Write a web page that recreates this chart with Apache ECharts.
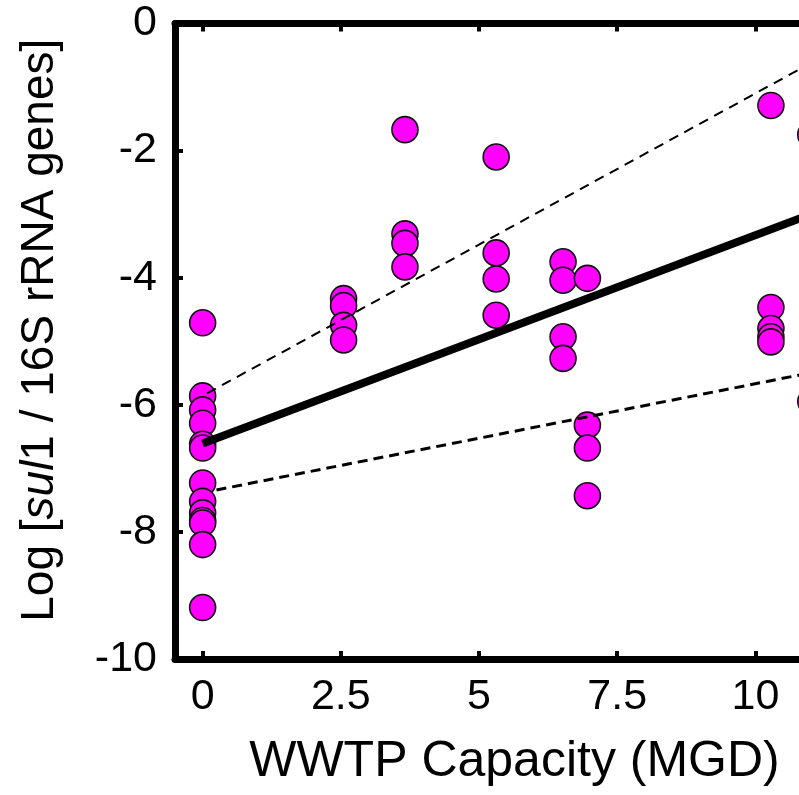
<!DOCTYPE html>
<html>
<head>
<meta charset="utf-8">
<script src="https://cdn.jsdelivr.net/npm/echarts@6/dist/echarts.min.js"></script>
<style>
html,body{margin:0;padding:0;background:#fff;}
#chart{width:799px;height:795px;}
</style>
</head>
<body>
<div id="chart"></div>
<script>
// Data
const capacityMGD = [
  0,0,0,0,0,0,0,0,0,0,0,0,0,
  2.55,2.55,2.55,2.55,
  3.66,3.66,3.66,3.66,
  5.31,5.31,5.31,5.31,
  6.52,6.52,6.52,6.52,
  6.96,6.96,6.96,6.96,
  10.28,10.28,10.28,10.28,10.28,
  11.0,11.0
];
const logSul1 = [
  -4.71,-5.86,-6.08,-6.29,-6.62,-6.68,-7.23,-7.52,-7.70,-7.82,-7.86,-8.20,-9.19,
  -4.33,-4.44,-4.75,-4.98,
  -1.67,-3.31,-3.46,-3.83,
  -2.10,-3.61,-4.02,-4.59,
  -3.75,-4.04,-4.93,-5.27,
  -4.01,-6.32,-6.68,-7.43,
  -1.29,-4.47,-4.80,-4.93,-5.01,
  -1.75,-5.95
];
const fitX = [0, 12.5];
const fitY = [-6.61, -2.51];
const upperX = [0.08, 12.5];
const upperY = [-5.82, 0.09];
const lowerX = [0.25, 12.5];
const lowerY = [-7.34, -5.24];
const xTicks = [0, 2.5, 5, 7.5, 10];
const yTicks = [0, -2, -4, -6, -8, -10];

const pts = capacityMGD.map((x, i) => [x, logSul1[i]]);
const zip = (a, b) => a.map((v, i) => [v, b[i]]);

const FONT = '"Liberation Sans", Arial, sans-serif';
const chart = echarts.init(document.getElementById('chart'), null, {renderer: 'canvas'});

const tickStyle = {show: true, inside: true, length: 8, lineStyle: {color: '#000', width: 4}};

chart.setOption({
  backgroundColor: '#fff',
  animation: false,
  grid: {left: 175, top: 23.5, width: 691, height: 635.5, show: false,
    containLabel: false, outerBoundsMode: 'none'},
  xAxis: [{
    type: 'value', min: -0.5, max: 12, position: 'bottom',
    axisLine: {show: true, onZero: false, lineStyle: {color: '#000', width: 7}},
    axisTick: Object.assign({customValues: xTicks}, tickStyle),
    axisLabel: {customValues: xTicks, color: '#000', fontSize: 43, fontFamily: FONT, margin: 17},
    splitLine: {show: false},
    name: 'WWTP Capacity (MGD)', nameLocation: 'middle', nameGap: 78,
    nameTextStyle: {color: '#000', fontSize: 50, fontFamily: FONT, padding: [0, 12, 0, 0]}
  }, {
    type: 'value', min: -0.5, max: 12, position: 'top',
    axisLine: {show: true, onZero: false, lineStyle: {color: '#000', width: 7}},
    axisTick: Object.assign({customValues: xTicks}, tickStyle),
    axisLabel: {show: false}, splitLine: {show: false}
  }],
  yAxis: [{
    type: 'value', min: -10, max: 0, interval: 2, position: 'left',
    axisLine: {show: true, onZero: false, lineStyle: {color: '#000', width: 7}},
    axisTick: tickStyle,
    axisLabel: {color: '#000', fontSize: 43, fontFamily: FONT, margin: 18,
      formatter: v => String(v)},
    splitLine: {show: false},
    name: 'Log [{i|sul}1 / 16S rRNA genes]', nameLocation: 'middle', nameGap: 112,
    nameRotate: 90,
    nameTextStyle: {color: '#000', fontSize: 46, fontFamily: FONT, padding: [0, 0, 0, 22],
      rich: {i: {fontStyle: 'italic', fontSize: 46, fontFamily: FONT, color: '#000'}}}
  }, {
    type: 'value', min: -10, max: 0, interval: 2, position: 'right',
    axisLine: {show: true, onZero: false, lineStyle: {color: '#000', width: 7}},
    axisTick: tickStyle, axisLabel: {show: false}, splitLine: {show: false}
  }],
  series: [{
    type: 'scatter', data: pts, symbol: 'circle', symbolSize: 26, z: 2,
    itemStyle: {color: '#FF00FF', borderColor: '#111', borderWidth: 1.6, opacity: 1}
  }, {
    type: 'line', data: zip(fitX, fitY), symbol: 'none', z: 3, clip: true,
    lineStyle: {color: '#000', width: 8}
  }, {
    type: 'line', data: zip(upperX, upperY), symbol: 'none', z: 3, clip: true,
    lineStyle: {color: '#000', width: 2, type: [10, 7]}
  }, {
    type: 'line', data: zip(lowerX, lowerY), symbol: 'none', z: 3, clip: true,
    lineStyle: {color: '#000', width: 3, type: [10, 6]}
  }]
});
</script>
</body>
</html>
